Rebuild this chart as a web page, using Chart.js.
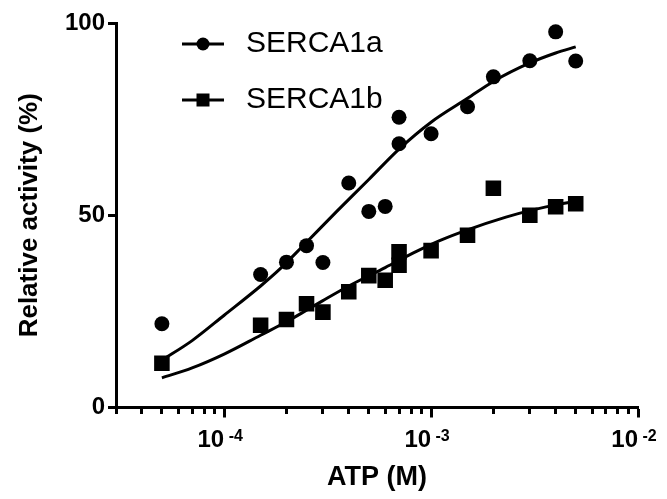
<!DOCTYPE html>
<html><head><meta charset="utf-8">
<script src="https://cdn.jsdelivr.net/npm/chart.js@4.4.1/dist/chart.umd.min.js"></script>
<style>html,body{margin:0;padding:0;background:#fff}</style>
</head><body>
<canvas id="c" width="667" height="499"></canvas>
<script>
// ---- data ----
const atpConc   = [5e-5, 1.5e-4, 2e-4, 2.5e-4, 3e-4, 4e-4, 5e-4, 6e-4, 7e-4, 7e-4, 1e-3, 1.5e-3, 2e-3, 3e-3, 4e-3, 5e-3];
const serca1a   = [21.8, 34.6, 37.8, 42.1, 37.7, 58.4, 51.0, 52.3, 68.6, 75.5, 71.2, 78.2, 86.0, 90.2, 97.7, 90.1];
const serca1b   = [11.5, 21.4, 22.9, 27.0, 24.8, 30.1, 34.3, 33.1, 37.0, 40.5, 40.8, 44.8, 57.0, 50.0, 52.2, 53.0];
const fitAConc  = [5e-5, 7e-5, 1e-4, 1.5e-4, 1.85e-4, 2.4e-4, 3.5e-4, 5e-4, 7e-4, 1e-3, 1.5e-3, 2e-3, 3e-3, 4e-3, 5e-3];
const fitA      = [12.3, 17.4, 24.0, 31.6, 35.9, 42.0, 51.0, 59.3, 67.2, 74.2, 80.4, 84.8, 89.6, 92.2, 93.8];
const fitBConc  = [5e-5, 7e-5, 1e-4, 1.5e-4, 2e-4, 2.5e-4, 3e-4, 4e-4, 6e-4, 8.5e-4, 1.1e-3, 1.5e-3, 2.3e-3, 3.1e-3, 4.2e-3, 5e-3];
const fitB      = [7.7, 10.3, 13.9, 18.8, 22.3, 25.3, 27.8, 31.6, 36.4, 40.6, 43.4, 46.2, 49.5, 51.4, 52.9, 53.6];
const seriesNames = ['SERCA1a', 'SERCA1b'];
const yTicks = [0, 50, 100];
const xMajorTicks = [1e-4, 1e-3, 1e-2];
const xTickBase = '10';
const xTickExponents = ['-4', '-3', '-2'];
const xMinorTicks = [3e-5, 4e-5, 5e-5, 6e-5, 7e-5, 8e-5, 9e-5,
                     2e-4, 3e-4, 4e-4, 5e-4, 6e-4, 7e-4, 8e-4, 9e-4,
                     2e-3, 3e-3, 4e-3, 5e-3, 6e-3, 7e-3, 8e-3, 9e-3];
const xAllTicks = xMinorTicks.concat(xMajorTicks).sort((a, b) => a - b);
const xAxisTitle = 'ATP (M)';
const yAxisTitle = 'Relative activity (%)';

const FONT = "'Liberation Sans', Arial, Helvetica, sans-serif";

function legendMarker(shape) {
  const c = document.createElement('canvas');
  c.width = 42; c.height = 18;
  const g = c.getContext('2d');
  g.fillStyle = '#000';
  g.fillRect(0, 7.5, 42, 3);
  if (shape === 'circle') { g.beginPath(); g.arc(21, 9, 6.5, 0, Math.PI * 2); g.fill(); }
  else { g.fillRect(14.5, 2.5, 13, 13); }
  return c;
}
const markers = [legendMarker('circle'), legendMarker('rect')];

const legendPlacer = {
  id: 'legendPlacer',
  afterLayout(chart) {
    const lg = chart.legend; if (!lg) return;
    const h = lg.bottom - lg.top, w = lg.right - lg.left;
    lg.left = 149; lg.right = 149 + w;
    lg.top = 3; lg.bottom = 3 + h;
  }
};

new Chart(document.getElementById('c'), {
  type: 'scatter',
  data: {
    datasets: [
      { type: 'scatter', label: seriesNames[0], data: atpConc.map((x, i) => ({ x, y: serca1a[i] })),
        pointStyle: 'circle', pointRadius: 7.5, backgroundColor: '#000', borderColor: '#000', borderWidth: 0 },
      { type: 'scatter', label: seriesNames[1], data: atpConc.map((x, i) => ({ x, y: serca1b[i] })),
        pointStyle: 'rect', pointRadius: 11, backgroundColor: '#000', borderColor: '#000', borderWidth: 0 },
      { type: 'line', label: 'fit ' + seriesNames[0], data: fitAConc.map((x, i) => ({ x, y: fitA[i] })),
        borderColor: '#000', borderWidth: 3, pointRadius: 0, cubicInterpolationMode: 'monotone', fill: false },
      { type: 'line', label: 'fit ' + seriesNames[1], data: fitBConc.map((x, i) => ({ x, y: fitB[i] })),
        borderColor: '#000', borderWidth: 3, pointRadius: 0, cubicInterpolationMode: 'monotone', fill: false }
    ]
  },
  options: {
    responsive: false, animation: false, events: [], devicePixelRatio: 1,
    layout: { padding: { left: 0, right: 29, top: 23, bottom: 0 } },
    plugins: {
      tooltip: { enabled: false },
      legend: {
        position: 'chartArea', align: 'start',
        labels: {
          usePointStyle: true, pointStyleWidth: 56, padding: 26, color: '#000',
          font: { family: FONT, size: 30 },
          generateLabels: (chart) => Chart.defaults.plugins.legend.labels.generateLabels(chart)
            .filter(it => it.datasetIndex < 2)
            .map(it => Object.assign(it, { pointStyle: markers[it.datasetIndex] }))
        }
      }
    },
    scales: {
      x: {
        type: 'logarithmic', min: 3e-5, max: 1e-2,
        afterBuildTicks: (s) => { s.ticks = xAllTicks.map(v => ({ value: v, major: xMajorTicks.includes(v) })); },
        afterFit: (s) => { s.height = 91.5; s.paddingLeft = 0; s.paddingRight = 0; },
        border: { color: '#000', width: 3 },
        grid: { drawOnChartArea: false, drawTicks: true, tickLength: 10, tickWidth: 3, tickColor: '#000',
                tickBorderDash: (ctx) => (ctx.tick && ctx.tick.major) ? [] : [5, 40] },
        ticks: { autoSkip: false, maxRotation: 0, minRotation: 0, padding: 8, align: 'end', color: '#000',
                 font: { family: FONT, size: 24, weight: 'bold' },
                 callback: (v) => xMajorTicks.includes(v) ? xTickBase : '' },
        title: { display: true, text: xAxisTitle, color: '#000',
                 font: { family: FONT, size: 27, weight: 'bold' }, padding: { top: 0, bottom: 5 } }
      },
      x2: {
        axis: 'x', type: 'logarithmic', position: { y: 0 }, min: 3e-5, max: 1e-2,
        afterBuildTicks: (s) => { s.ticks = xMajorTicks.map(v => ({ value: v, major: true })); },
        afterFit: (s) => { s.height = 0; s.paddingLeft = 0; s.paddingRight = 0; },
        border: { display: false },
        grid: { display: false, drawOnChartArea: false, drawTicks: false },
        ticks: { autoSkip: false, maxRotation: 0, minRotation: 0, padding: 19, align: 'start', color: '#000',
                 font: { family: FONT, size: 16, weight: 'bold' },
                 callback: (v) => { const i = xMajorTicks.indexOf(v); return i >= 0 ? ' ' + xTickExponents[i] : ''; } }
      },
      y: {
        min: 0, max: 100,
        afterBuildTicks: (s) => { s.ticks = yTicks.map(v => ({ value: v })); },
        afterFit: (s) => { s.width = 116; },
        border: { color: '#000', width: 3 },
        grid: { drawOnChartArea: false, drawTicks: true, tickLength: 8, tickWidth: 3, tickColor: '#000' },
        ticks: { padding: 3, color: '#000', font: { family: FONT, size: 24, weight: 'bold' } },
        title: { display: true, text: yAxisTitle, color: '#000',
                 font: { family: FONT, size: 26, weight: 'bold' }, padding: { top: 14, bottom: 0 } }
      }
    }
  },
  plugins: [legendPlacer]
});
</script>
</body></html>
